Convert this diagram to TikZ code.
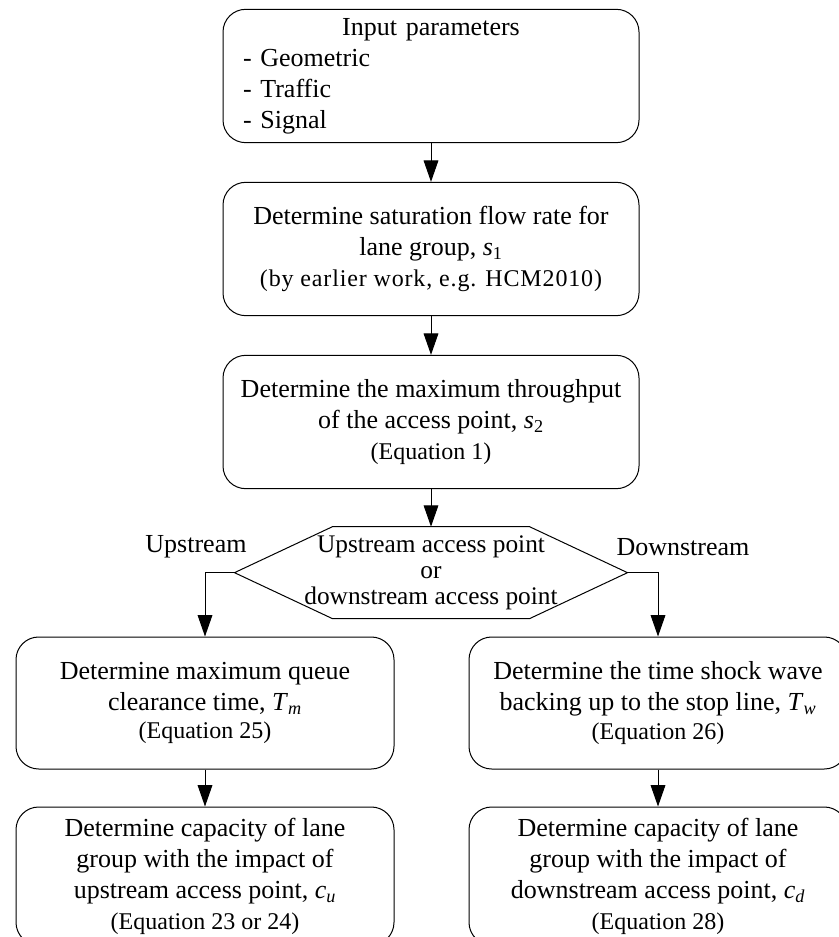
\documentclass[tikz,border=0pt]{standalone}
\usepackage{fontspec}
\setmainfont{Liberation Serif}
\usepackage{tikz}
\usetikzlibrary{arrows.meta,positioning}

\newcommand{\eqsize}{\fontsize{18pt}{21pt}\selectfont}
\newcommand{\itsub}[2]{\textit{#1}\textsubscript{#2}}

\begin{document}
\begin{tikzpicture}[x=0.75pt, y=-0.75pt, ->, >={Triangle[length=16pt,width=11pt]}, line width=0.75pt, node distance=129.75pt, font=\fontsize{19.5pt}{23.25pt}\selectfont]

    \tikzstyle{stepbox}=[draw, rounded corners=17pt, align=center, minimum width=312pt, minimum height=100pt]
    \tikzstyle{sidebox}=[stepbox, minimum width=283.5pt, minimum height=99pt]
    \tikzstyle{choicebox}=[align=center, inner sep=0pt, minimum width=294pt, minimum height=68.25pt, font=\fontsize{19pt}{19.5pt}\selectfont]

    \useasboundingbox (0,0) rectangle (838,937);

    \node[stepbox, text width=282pt, align=left] (in) at (431,76)
      {\makebox[\hsize]{Input parameters}\\- Geometric\\- Traffic\\- Signal};
    \node[stepbox] (sat)  [below of=in]
      {Determine saturation flow rate for\\lane group, \itsub{s}{1}\\{\eqsize\addfontfeature{LetterSpace=3.5}(by earlier work, e.g. HCM2010)}};
    \node[stepbox] (thru) [below of=sat]
      {Determine the maximum throughput\\of the access point, \itsub{s}{2}\\{\eqsize (Equation 1)}};
    \node[choicebox] (choice) [node distance=113pt, below of=thru]
      {Upstream access point\\or\\downstream access point};

    \node[sidebox] (tm) at (205,703)
      {Determine maximum queue\\clearance time, \itsub{T}{\textit{m}}\\[-2pt]{\eqsize (Equation 25)}};
    \node[sidebox] (tw) at (658,703)
      {Determine the time shock wave\\backing up to the stop line, \itsub{T}{\textit{w}}\\[-2pt]{\eqsize (Equation 26)}};
    \node[sidebox, minimum height=103.5pt] (cu) [below of=tm]
      {Determine capacity of lane\\group with the impact of\\upstream access point, \itsub{c}{\textit{u}}\\{\eqsize (Equation 23 or 24)}};
    \node[sidebox, minimum height=103.5pt] (cd) [below of=tw]
      {Determine capacity of lane\\group with the impact of\\downstream access point, \itsub{c}{\textit{d}}\\{\eqsize (Equation 28)}};

    \node (uplbl)   at (196,547) {Upstream};
    \node (downlbl) at (683,547) {Downstream};

    % decision outline
    \draw[-] (choice.west) -- ([xshift=73.5pt]choice.north west) -- ([xshift=-73.5pt]choice.north east)
      -- (choice.east) -- ([xshift=-73.5pt]choice.south east) -- ([xshift=73.5pt]choice.south west) -- cycle;

    \path (in) edge (sat)
          (sat) edge (thru)
          (thru) edge (choice)
          (tm) edge (cu)
          (tw) edge (cd)
    ;
    \draw (choice.west) -| (tm);
    \draw (choice.east) -| (tw);
\end{tikzpicture}
\end{document}
